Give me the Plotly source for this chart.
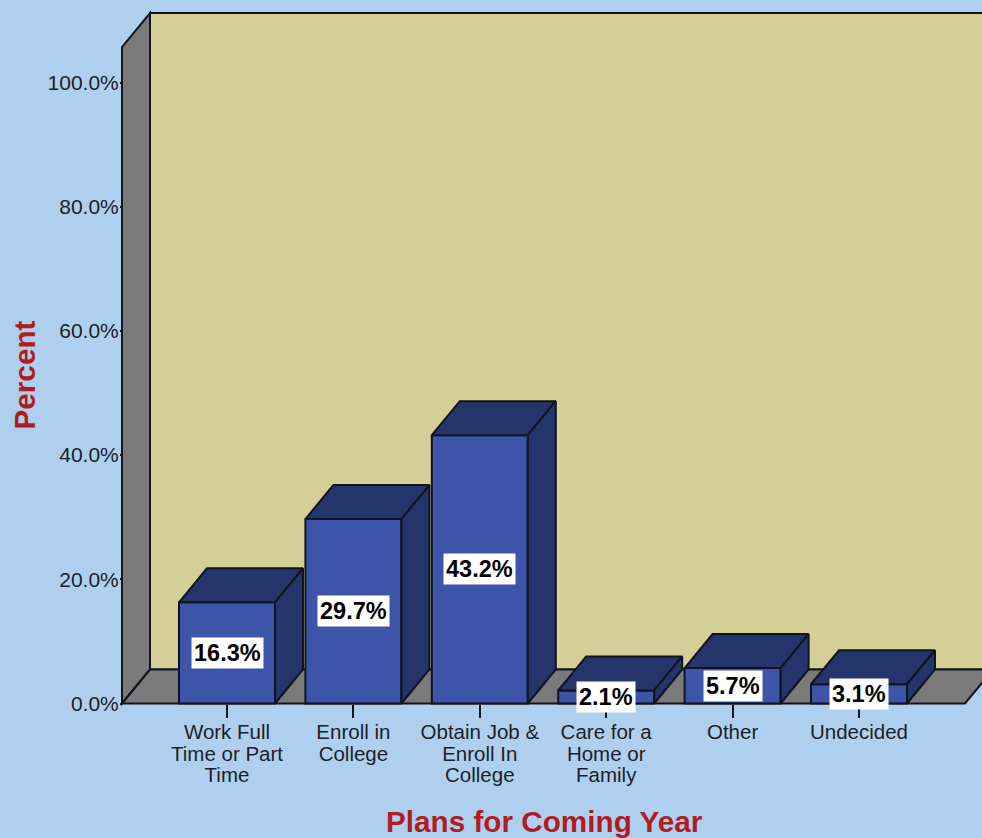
import plotly.graph_objects as go

categories = ["Work Full<br>Time or Part<br>Time", "Enroll in<br>College", "Obtain Job &<br>Enroll In<br>College",
              "Care for a<br>Home or<br>Family", "Other", "Undecided"]
values = [16.3, 29.7, 43.2, 2.1, 5.7, 3.1]
y_ticks = [0, 20, 40, 60, 80, 100]
y_tick_labels = ["0.0%", "20.0%", "40.0%", "60.0%", "80.0%", "100.0%"]

W, H = 982, 838
PX_PER_CAT = 126.4
PX_PER_PCT = 6.21
X0_PX = 227
Y0_PX = 703.5
DX = 28 / PX_PER_CAT
DY = 34 / PX_PER_PCT
BAR_W = 96 / PX_PER_CAT
WALL_L = (122 - X0_PX) / PX_PER_CAT
WALL_R = (965 - X0_PX) / PX_PER_CAT
WALL_TOP = 105.7

BG, BACK, GREY = "#aed0ee", "#d3cf97", "#7a7a7a"
FRONT, DARK, EDGE = "#3c55a9", "#24356c", "#10141f"
RED = "#b01c22"
FONT = "Liberation Sans, Arial, sans-serif"

x_range = [-X0_PX / PX_PER_CAT, (W - X0_PX) / PX_PER_CAT]
y_range = [-(H - Y0_PX) / PX_PER_PCT, Y0_PX / PX_PER_PCT]
pos = list(range(len(values)))


def poly(pts):
    return "M" + "L".join(f"{x},{y}" for x, y in pts) + "Z"


wall_line = dict(color=EDGE, width=2)
shapes = [
    dict(type="path", layer="below", xref="x", yref="y", fillcolor=BACK, line=wall_line,
         path=poly([(WALL_L + DX, DY), (WALL_L + DX, WALL_TOP + DY),
                    (WALL_R + 2 * DX, WALL_TOP + DY), (WALL_R + 2 * DX, DY)])),
    dict(type="path", layer="below", xref="x", yref="y", fillcolor=GREY, line=wall_line,
         path=poly([(WALL_L, 0), (WALL_L, WALL_TOP), (WALL_L + DX, WALL_TOP + DY), (WALL_L + DX, DY)])),
    dict(type="path", layer="below", xref="x", yref="y", fillcolor=GREY, line=wall_line,
         path=poly([(WALL_L, 0), (WALL_L + DX, DY), (WALL_R + DX, DY), (WALL_R, 0)])),
]

fig = go.Figure()
fig.add_trace(go.Bar(x=pos, y=values, width=BAR_W, showlegend=False, hoverinfo="skip",
                     marker=dict(color=FRONT, line=dict(color=EDGE, width=2))))

for i, v in zip(pos, values):
    l, r = i - BAR_W / 2, i + BAR_W / 2
    top_x = [l, l + DX, r + DX, r, l]
    top_y = [v, v + DY, v + DY, v, v]
    side_x = [r, r + DX, r + DX, r, r]
    side_y = [0, DY, v + DY, v, 0]
    for xs, ys in ((top_x, top_y), (side_x, side_y)):
        fig.add_trace(go.Scatter(x=xs, y=ys, mode="lines", fill="toself", fillcolor=DARK,
                                 line=dict(color=EDGE, width=2), showlegend=False, hoverinfo="skip"))

annotations = [
    dict(x=i, y=v / 2, xref="x", yref="y", text=f"<b>{v:.1f}%</b>", showarrow=False,
         xanchor="center", yanchor="middle",
         bgcolor="white", borderpad=2, font=dict(family=FONT, size=23.5, color="black"))
    for i, v in zip(pos, values)
]
annotations += [
    dict(x=544.5 / W, y=1 - 821 / H, xref="paper", yref="paper", showarrow=False,
         xanchor="center", yanchor="middle",
         text="<b>Plans for Coming Year</b>", font=dict(family=FONT, size=29.7, color=RED)),
    dict(x=24 / W, y=1 - 375.5 / H, xref="paper", yref="paper", showarrow=False, textangle=-90,
         xanchor="center", yanchor="middle",
         text="<b>Percent</b>", font=dict(family=FONT, size=29.7, color=RED)),
]

fig.update_layout(
    width=W, height=H, margin=dict(l=0, r=0, t=0, b=0, pad=0),
    paper_bgcolor=BG, plot_bgcolor=BG, showlegend=False, barmode="overlay",
    shapes=shapes, annotations=annotations,
    xaxis=dict(range=x_range, domain=[0, 1], anchor="free", position=(H - Y0_PX) / H,
               tickmode="array", tickvals=pos, ticktext=categories, ticks="outside", ticklen=13,
               tickwidth=2, tickcolor=EDGE, showgrid=False, zeroline=False, showline=False,
               tickangle=0, ticklabelstandoff=-3,
               tickfont=dict(family=FONT, size=20.5, color="#1a1f2a")),
    yaxis=dict(range=y_range, domain=[0, 1], anchor="free", position=122 / W,
               tickmode="array", tickvals=y_ticks, ticktext=y_tick_labels, ticks="outside", ticklen=2,
               tickwidth=2, tickcolor=EDGE, showgrid=False, zeroline=False, showline=False,
               ticklabelstandoff=-3,
               tickfont=dict(family=FONT, size=21, color="#1a1f2a")),
)

# Page without body margin; tighter line spacing for the multi-line category labels.
post = """
document.documentElement.style.overflow = 'hidden';
document.body.style.margin = '0';
document.querySelectorAll('.xtick text tspan.line').forEach(function (t) {
  if (t.getAttribute('dy')) { t.setAttribute('dy', (parseFloat(t.getAttribute('dy')) * 1.05 / 1.3) + 'em'); }
});
"""
fig.write_html("out.html", post_script=post, config={"displayModeBar": False})
